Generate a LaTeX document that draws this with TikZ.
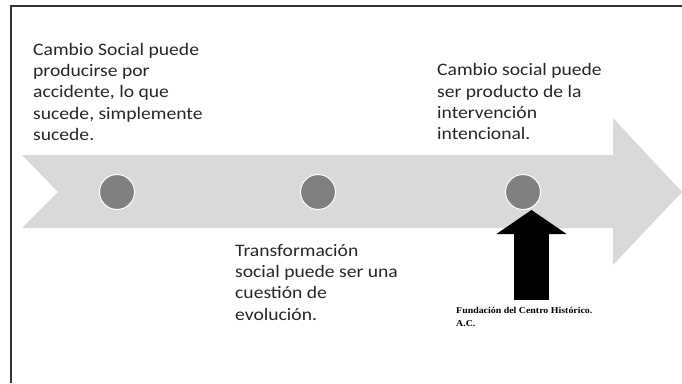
\documentclass[tikz,border=0pt]{standalone}
\usepackage{fontspec}
\setmainfont[FakeStretch=1.12]{Carlito}
\newfontfamily\notefont[FakeStretch=1.1]{Liberation Serif}
\usepackage{tikz}
\usetikzlibrary{arrows.meta,positioning}
\definecolor{bandgray}{HTML}{D9D9D9}
\definecolor{dotgray}{HTML}{808080}
\tikzset{dot/.style={circle,fill=dotgray,draw=white,line width=1pt,minimum size=35pt,inner sep=0pt}}
\tikzset{txt/.style={align=left,anchor=north west,inner sep=0pt,text=black!85,font=\fontsize{17.5}{21.3}\selectfont}}
\tikzset{note/.style={align=left,anchor=north west,inner sep=0pt,font=\notefont\bfseries\fontsize{9}{13.5}\selectfont}}

\begin{document}
\begin{tikzpicture}[x=1pt, y=-1pt]
    \useasboundingbox (0,0) rectangle (682,383);
    \draw[line width=1.5pt, black!80] (11,383) -- (11,6) -- (682,6);

    % timeline band
    \fill[bandgray] (22,155) -- (613,155) -- (613,118) -- (682,192) -- (613,265)
        -- (613,228) -- (22,228) -- (58,192) -- cycle;

    \node[dot] (c1) at (117,192) {};
    \node[dot] (c2) at (318,192) {};
    \node[dot] (c3) at (523,192) {};

    \node[txt] (accidente) at (33,43) {Cambio Social puede\\producirse por\\accidente, lo que\\sucede, simplemente\\sucede.};
    \node[txt] (intencional) at (437,63.5) {Cambio social puede\\ser producto de la\\intervención\\intencional.};
    \node[txt] (evolucion) at (235,244) {Transformación\\social puede ser una\\cuestión de\\evolución.};
    \node[note] (fuente) at (456,307) {Fundación del Centro Histórico.\\A.C.};

    \coordinate (root) at (531.5,300);
    \path (root) edge[line width=35pt, -{Triangle[width=69pt,length=24pt]}] (root |- c3.south);
\end{tikzpicture}
\end{document}
